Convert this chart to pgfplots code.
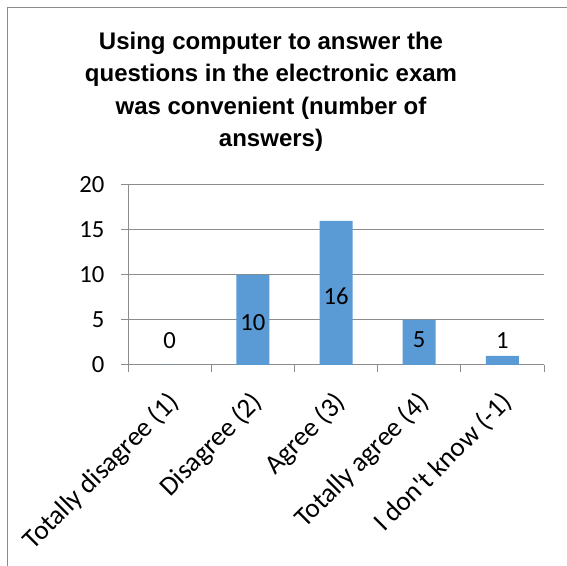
\documentclass[border=0pt]{standalone}
\usepackage{pgfplots}
\pgfplotsset{compat=1.18}
\usepackage{pgfplotstable}
\usepackage{fontspec}
\setmainfont{Carlito}[Ligatures=TeXOff]
\newfontfamily\titlefont{Liberation Sans}
\definecolor{barblue}{HTML}{5B9BD5}
\definecolor{linegray}{HTML}{8C8C8C}

% answers per category; lab = height at which the count is printed
\pgfplotstableread{
x y lab
0 0 2.67
1 10 4.67
2 16 7.67
3 5 2.78
4 1 2.67
}\answers

\begin{document}
\begin{tikzpicture}
\useasboundingbox (0,0) rectangle (425.25pt,424.5pt);
% chart frame
\draw[linegray, line width=0.75pt] (5.25pt,-20pt) -- (5.25pt,418.5pt) -- (450pt,418.5pt);
\node[font=\titlefont\bfseries\fontsize{18}{24.3}\selectfont, align=center] at (203.25pt,355.5pt)
  {Using computer to answer the\\questions in the electronic exam\\was convenient (number of\\answers)};
\begin{axis}[
  at={(96pt,150.75pt)}, anchor=south west,
  scale only axis, width=312pt, height=135pt,
  xmin=-0.5, xmax=4.5, ymin=0, ymax=20,
  ytick={0,5,10,15,20},
  xtick={-0.5,0.5,1.5,2.5,3.5,4.5}, xticklabels={},
  extra x ticks={0,1,2,3,4},
  extra x tick labels={Totally disagree (1),Disagree (2),Agree (3),Totally agree (4),I don't know (-1)},
  extra x tick style={major tick length=0pt, xticklabel shift=14pt,
    xticklabel style={xshift=6.5pt, yshift=-8.5pt, rotate=45, anchor=east, font=\fontsize{20.4}{24}\selectfont}},
  axis x line*=bottom, axis y line*=left,
  axis line style={linegray, line width=0.75pt, -},
  ymajorgrids, grid style={linegray, line width=0.75pt},
  tick align=outside, major tick length=5.25pt,
  tick style={linegray, line width=0.75pt},
  yticklabel style={font=\fontsize{18.5}{22}\selectfont, xshift=-9pt},
  /pgf/number format/assume math mode=true,
]
\addplot[ybar, bar width=24.75pt, fill=barblue, draw=none] table[x=x, y=y] {\answers};
\addplot[draw=none, nodes near coords, point meta=explicit,
  nodes near coords style={anchor=center, font=\fontsize{18.5}{22}\selectfont}]
  table[x=x, y=lab, meta=y] {\answers};
\end{axis}
\end{tikzpicture}
\end{document}
